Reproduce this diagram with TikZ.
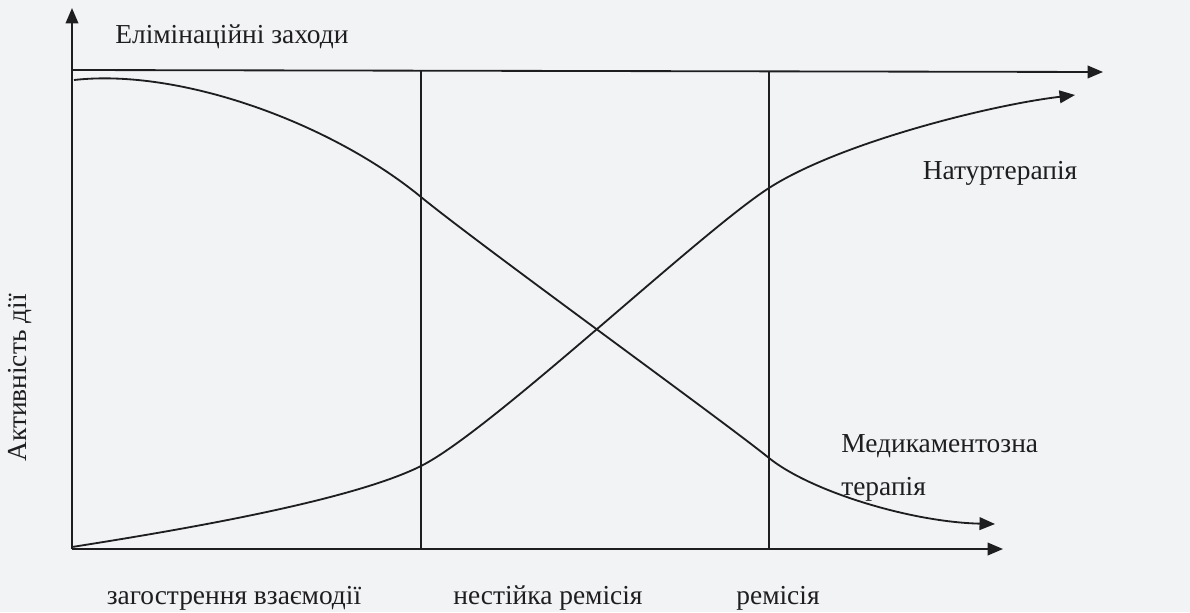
\documentclass[tikz,border=0pt]{standalone}
\usepackage{fontspec}
\setmainfont{Liberation Serif}
\usetikzlibrary{arrows.meta}
\definecolor{paper}{RGB}{242,243,245}
\definecolor{ink}{RGB}{30,30,32}

\begin{document}
\begin{tikzpicture}[x=0.025cm,y=-0.025cm,line width=1.3pt,
  font=\fontsize{19.5}{22}\selectfont,
  lbl/.style={inner sep=1pt,text=ink},
  ax/.style={draw=ink,-{Triangle[length=11pt,width=9pt]}},
  grid/.style={draw=ink,line width=1pt}]
\fill[paper] (0,0) rectangle (1190,612);
% axes and frame
\coordinate (O) at (72,549);
\coordinate (ytip) at (72,8);
\coordinate (xtip) at (1003,549);
\coordinate (topL) at (72,70);
\coordinate (topR) at (1103,72);
\coordinate (v1t) at (421,70);
\coordinate (v1b) at (421,549);
\coordinate (v2t) at (769,71);
\coordinate (v2b) at (769,549);
\draw[ax] (O)--(ytip);
\draw[ax] (O)--(xtip);
\draw[ax] (topL)--(topR);
\draw[grid] (v1t)--(v1b);
\draw[grid] (v2t)--(v2b);
% curves
\draw[ax] (74,80) .. controls (180,68) and (331,123) .. (421,197)
  .. controls (481,246) and (722,420) .. (769,458)
  .. controls (810,491) and (910,522) .. (995,524);
\draw[ax] (72,547) .. controls (180,530) and (351,501) .. (421,466)
  .. controls (491,431) and (699,233) .. (769,188)
  .. controls (839,143) and (990,105) .. (1075,95);
% labels
\node[lbl,anchor=west] (elim) at (113,37) {Елімінаційні заходи};
\node[lbl] (natur) at (1000,173) {Натуртерапія};
\node[lbl,anchor=west,align=left,font=\fontsize{19.5}{31}\selectfont] (medic) at (839,468) {Медикаментозна\\терапія};
\node[lbl,rotate=90] (activ) at (20,378) {Активність дії};
\node[lbl] (zagostr) at (234,598) {загострення взаємодії};
\node[lbl] (nestijka) at (548,598) {нестійка ремісія};
\node[lbl] (remisia) at (778,598) {ремісія};
\end{tikzpicture}
\end{document}
